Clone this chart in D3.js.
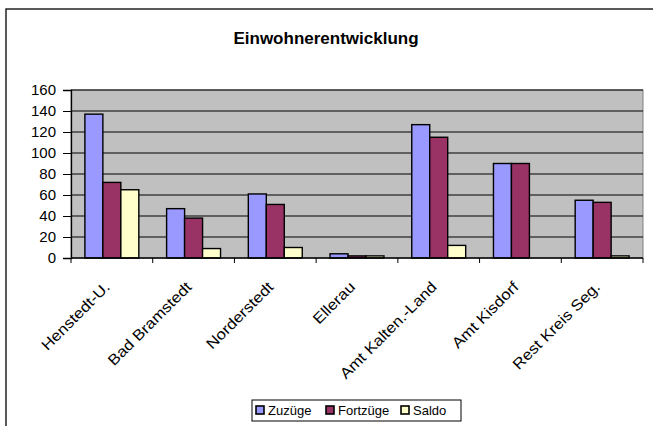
<!DOCTYPE html>
<html>
<head>
<meta charset="utf-8">
<script src="https://cdn.jsdelivr.net/npm/d3@7"></script>
<style>
  html, body { margin: 0; padding: 0; background: #fff; }
  svg { display: block; font-family: "Liberation Sans", Arial, sans-serif; }
</style>
</head>
<body>
<svg id="chart" width="653" height="426"></svg>
<script>
// Einwohnerentwicklung: Zuzüge, Fortzüge und Saldo je Gemeinde
const categories = ["Henstedt-U.", "Bad Bramstedt", "Norderstedt", "Ellerau", "Amt Kalten.-Land", "Amt Kisdorf", "Rest Kreis Seg."];
const seriesNames = ["Zuzüge", "Fortzüge", "Saldo"];
const zuzuege  = [137, 47, 61, 4, 127, 90, 55];
const fortzuege = [72, 38, 51, 2, 115, 90, 53];
const saldo    = [65, 9, 10, 2, 12, 0, 2];
const yTicks = [0, 20, 40, 60, 80, 100, 120, 140, 160];
const colors = ["#9999FF", "#993366", "#FFFFCC"];

const seriesValues = [zuzuege, fortzuege, saldo];
const rows = categories.map((c, i) => ({
  category: c,
  values: seriesNames.map((s, j) => ({ series: s, value: seriesValues[j][i] }))
}));

const svg = d3.select("#chart");
const plot = { left: 71, right: 643, top: 90, bottom: 258 };

// outer chart frame
svg.append("rect")
  .attr("x", 6).attr("y", 9).attr("width", 720).attr("height", 520)
  .attr("fill", "#fff").attr("stroke", "#000").attr("stroke-width", 1.3);

// title
svg.append("text")
  .attr("x", 326).attr("y", 44)
  .attr("text-anchor", "middle")
  .attr("font-size", 17).attr("font-weight", "bold")
  .text("Einwohnerentwicklung");

const x = d3.scaleBand()
  .domain(categories)
  .range([plot.left, plot.right])
  .paddingInner(0.34).paddingOuter(0.17);
const xs = d3.scaleBand().domain(seriesNames).range([0, x.bandwidth()]);
const y = d3.scaleLinear().domain([0, 160]).range([plot.bottom, plot.top]);

// plot area background
svg.append("rect")
  .attr("x", plot.left).attr("y", plot.top)
  .attr("width", plot.right - plot.left).attr("height", plot.bottom - plot.top)
  .attr("fill", "#C0C0C0").attr("stroke", "#808080").attr("stroke-width", 1);

// gridlines
svg.append("g").selectAll("line")
  .data(yTicks.filter(d => d > 0))
  .join("line")
  .attr("x1", plot.left).attr("x2", plot.right)
  .attr("y1", d => y(d)).attr("y2", d => y(d))
  .attr("stroke", "#000").attr("stroke-width", 1);

// bars
svg.append("g").selectAll("g")
  .data(rows)
  .join("g")
  .attr("transform", d => `translate(${x(d.category)},0)`)
  .selectAll("rect")
  .data(d => d.values)
  .join("rect")
  .attr("x", d => xs(d.series))
  .attr("y", d => y(d.value))
  .attr("width", xs.bandwidth())
  .attr("height", d => y(0) - y(d.value))
  .attr("fill", (d, i) => colors[i])
  .attr("stroke", "#000").attr("stroke-width", 1.4);

// y axis
const yAxis = svg.append("g")
  .attr("transform", `translate(${plot.left},0)`)
  .call(d3.axisLeft(y).tickValues(yTicks).tickSize(8).tickPadding(7));
yAxis.select(".domain").attr("stroke", "#000").attr("stroke-width", 1.3);
yAxis.selectAll(".tick line").attr("stroke", "#000");
yAxis.selectAll("text").attr("font-size", 15).attr("font-family", "Liberation Sans, Arial, sans-serif").attr("fill", "#000");

// x axis: boundary ticks between categories
svg.append("line")
  .attr("x1", plot.left).attr("x2", plot.right)
  .attr("y1", plot.bottom).attr("y2", plot.bottom)
  .attr("stroke", "#000").attr("stroke-width", 1.3);
const step = x.step();
const boundaries = d3.range(categories.length + 1).map(i => plot.left + i * step);
svg.append("g").selectAll("line")
  .data(boundaries)
  .join("line")
  .attr("x1", d => d).attr("x2", d => d)
  .attr("y1", plot.bottom).attr("y2", plot.bottom + 5)
  .attr("stroke", "#000").attr("stroke-width", 1);

// category labels, rotated
svg.append("g").selectAll("text")
  .data(categories)
  .join("text")
  .attr("transform", d => `translate(${x(d) + x.bandwidth() / 2 - 1},288) rotate(-45) scale(1.12,1)`)
  .attr("text-anchor", "end")
  .attr("font-size", 15)
  .text(d => d);

// legend
const legend = svg.append("g");
legend.append("rect")
  .attr("x", 252).attr("y", 400).attr("width", 209).attr("height", 21)
  .attr("fill", "#fff").attr("stroke", "#000").attr("stroke-width", 1);
const legendX = [256, 326, 401];
const items = legend.selectAll("g.item")
  .data(seriesNames)
  .join("g").attr("class", "item")
  .attr("transform", (d, i) => `translate(${legendX[i]},0)`);
items.append("rect")
  .attr("x", 0).attr("y", 406).attr("width", 8).attr("height", 8)
  .attr("fill", (d, i) => colors[i])
  .attr("stroke", "#000").attr("stroke-width", 1.6);
items.append("text")
  .attr("x", 12).attr("y", 415)
  .attr("font-size", 13)
  .text(d => d);
</script>
</body>
</html>
